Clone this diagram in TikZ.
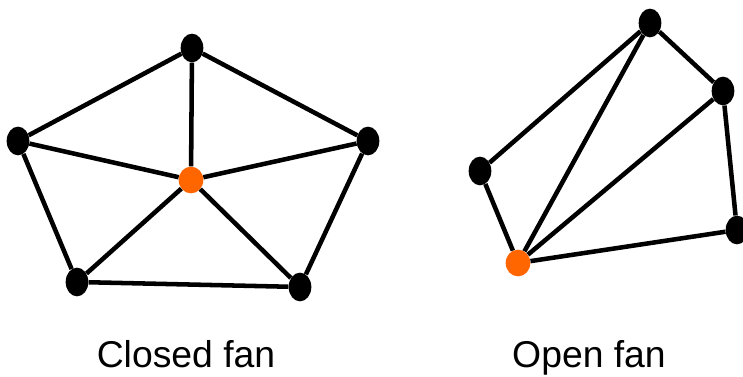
\documentclass[tikz,border=0pt]{standalone}
\usepackage{fontspec}
\setmainfont{Liberation Sans}
\usetikzlibrary{shapes.geometric}
\definecolor{fanorange}{HTML}{FF6600}
\tikzset{
  vtx/.style={ellipse, fill=black, inner sep=0pt, minimum width=17pt, minimum height=21.5pt},
  hub/.style={ellipse, fill=fanorange, inner sep=0pt, minimum width=18.5pt, minimum height=20pt},
  edge/.style={line width=3.4pt, black},
  captext/.style={font=\fontsize{28}{33}\selectfont, anchor=base, inner sep=0pt}
}
\begin{document}
\begin{tikzpicture}[x=0.75pt,y=-0.75pt]
\useasboundingbox (0,0) rectangle (743,377);
% closed fan
\node[vtx] (t) at (192,48) {};
\node[vtx] (l) at (18,141) {};
\node[vtx] (r) at (368,141) {};
\node[vtx] (bl) at (77,282) {};
\node[vtx] (br) at (300,287) {};
\node[hub] (c) at (191,180) {};
\draw[edge] (t) -- (l) -- (bl) -- (br) -- (r) -- (t);
\foreach \n in {t,l,r,bl,br} \draw[edge] (c) -- (\n);
% open fan
\node[vtx] (ot) at (650,23) {};
\node[vtx] (or) at (723,91) {};
\node[vtx] (ob) at (737,230) {};
\node[vtx] (ol) at (480,171) {};
\node[hub] (oc) at (518,263) {};
\draw[edge] (ol) -- (ot) -- (or) -- (ob);
\foreach \n in {ol,ot,or,ob} \draw[edge] (oc) -- (\n);
\node[captext] (lab1) at (186,368) {Closed fan};
\node[captext] (lab2) at (589,368) {Open fan};
\end{tikzpicture}
\end{document}
